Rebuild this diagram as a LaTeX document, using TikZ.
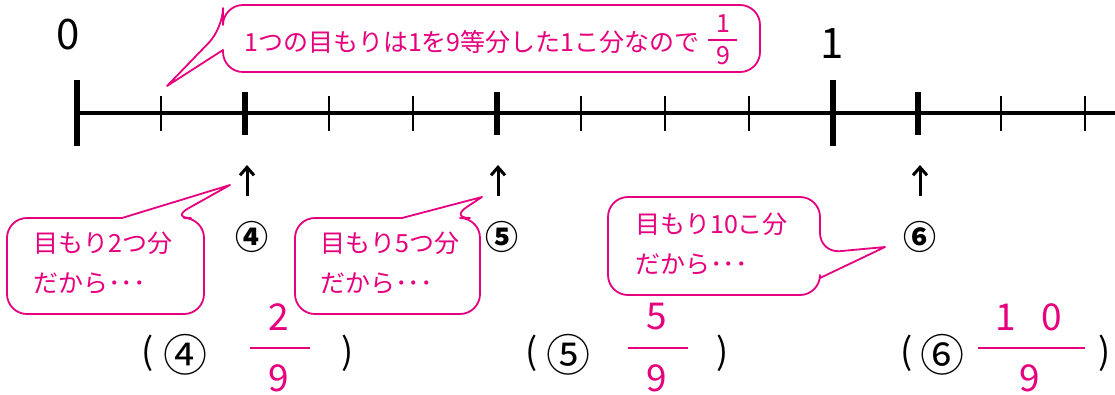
\documentclass[tikz,border=0pt]{standalone}
\usepackage{fontspec}
\setmainfont{Noto Sans CJK JP}
\usepackage{tikz}
\usetikzlibrary{arrows.meta,positioning}
\definecolor{mag}{RGB}{230,0,126}

\begin{document}
\begin{tikzpicture}[x=1pt,y=-1pt,
    every node/.style={inner sep=0pt},
    bubble/.style={draw=mag,line width=1.8pt,fill=white,line join=round},
    talk/.style={mag,font=\fontsize{25}{40}\selectfont,align=left,anchor=west},
    bigtick/.style={line width=6pt},
    midtick/.style={line width=5.5pt},
    smalltick/.style={line width=2pt},
    uparr/.style={line width=3pt,-{Straight Barb[length=8pt,width=14pt]}},
    circ/.style={font=\fontsize{33}{33}\selectfont\bfseries},
    ans/.style={font=\fontsize{36}{36}\selectfont},
    ansc/.style={font=\fontsize{44}{44}\selectfont},
    frac/.style={mag,font=\fontsize{37}{37}\selectfont},
    fbar/.style={draw=mag,line width=2.5pt}]
  \useasboundingbox (0,0) rectangle (1115,394);

  % number line
  \draw[line width=4pt] (77,113) -- (1115,113);
  \draw[bigtick] (77,80) -- (77,146);
  \draw[smalltick] (161,96) -- (161,131);
  \draw[midtick] (245,92) -- (245,135);
  \draw[smalltick] (329,96) -- (329,131);
  \draw[smalltick] (413,96) -- (413,131);
  \draw[midtick] (497,92) -- (497,135);
  \draw[smalltick] (581,96) -- (581,131);
  \draw[smalltick] (665,96) -- (665,131);
  \draw[smalltick] (749,96) -- (749,131);
  \draw[bigtick] (833,80) -- (833,146);
  \draw[midtick] (918,92) -- (918,135);
  \draw[smalltick] (1001,96) -- (1001,131);
  \draw[smalltick] (1085,96) -- (1085,131);

  \node[font=\fontsize{42}{42}\selectfont] (zero) at (68,35) {0};
  \node[font=\fontsize{42}{42}\selectfont] (one) at (832,44) {1};

  \coordinate (t0) at (167,86);
  \coordinate (t4) at (230,185);
  \coordinate (t5) at (482,197);
  \coordinate (t6) at (885,247);

  % callouts
  \draw[bubble] (223,28) -- (t0) -- (223,50) [rounded corners=20pt] -- (223,72)
      -- (760,72) -- (760,5) -- (223,5) -- cycle;
  \draw[bubble] (171,218) -- (t4) -- (122,218) [rounded corners=20pt] -- (7,218)
      -- (7,314) -- (204,314) -- (204,218) -- cycle;
  \draw[bubble] (450,218) -- (t5) -- (402,218) [rounded corners=20pt] -- (295,218)
      -- (295,314) -- (480,314) -- (480,218) -- cycle;
  \draw[bubble] (820,253) -- (t6) -- (820,278) [rounded corners=20pt] -- (820,295)
      -- (608,295) -- (608,197) -- (820,197) -- cycle;

  \node[talk] (note) at (244,42) {1つの目もりは1を9等分した1こ分なので};
  \node[mag,font=\fontsize{25}{25}\selectfont] (n1) at (723,24) {1};
  \node[mag,font=\fontsize{25}{25}\selectfont] (d1) at (723,56) {9};
  \draw[mag,line width=2pt] (708,40) -- (737,40);

  \node[talk] (hint4) at (33,263) {目もり2つ分\\だから･･･};
  \node[talk] (hint5) at (320,263) {目もり5つ分\\だから･･･};
  \node[talk] (hint6) at (635,244) {目もり10こ分\\だから･･･};

  % arrows and marks
  \coordinate (a4) at (247,196);
  \coordinate (b4) at (247,165);
  \coordinate (a5) at (498,196);
  \coordinate (b5) at (498,165);
  \coordinate (a6) at (920,196);
  \coordinate (b6) at (920,165);
  \draw[uparr] (a4) -- (b4);
  \draw[uparr] (a5) -- (b5);
  \draw[uparr] (a6) -- (b6);
  \node[circ] (c4) at (252,237) {④};
  \node[circ] (c5) at (502,237) {⑤};
  \node[circ] (c6) at (920,237) {⑥};

  % answers
  \node[ans] (l4) at (148,353) {(};
  \node[ansc] (m4) at (185,355) {④};
  \node[frac] (p4) at (279,317) {2};
  \draw[fbar] (250,348) -- (310,348);
  \node[frac] (q4) at (279,378) {9};
  \node[ans] (r4) at (348,353) {)};

  \node[ans] (l5) at (532,353) {(};
  \node[ansc] (m5) at (568,355) {⑤};
  \node[frac] (p5) at (657,317) {5};
  \draw[fbar] (628,348) -- (688,348);
  \node[frac] (q5) at (657,378) {9};
  \node[ans] (r5) at (723,353) {)};

  \node[ans] (l6) at (907,353) {(};
  \node[ansc] (m6) at (942,355) {⑥};
  \node[frac] (p6) at (1029,317) {1\hspace{26pt}0};
  \draw[fbar] (978,348) -- (1085,348);
  \node[frac] (q6) at (1030,378) {9};
  \node[ans] (r6) at (1105,353) {)};
\end{tikzpicture}
\end{document}
